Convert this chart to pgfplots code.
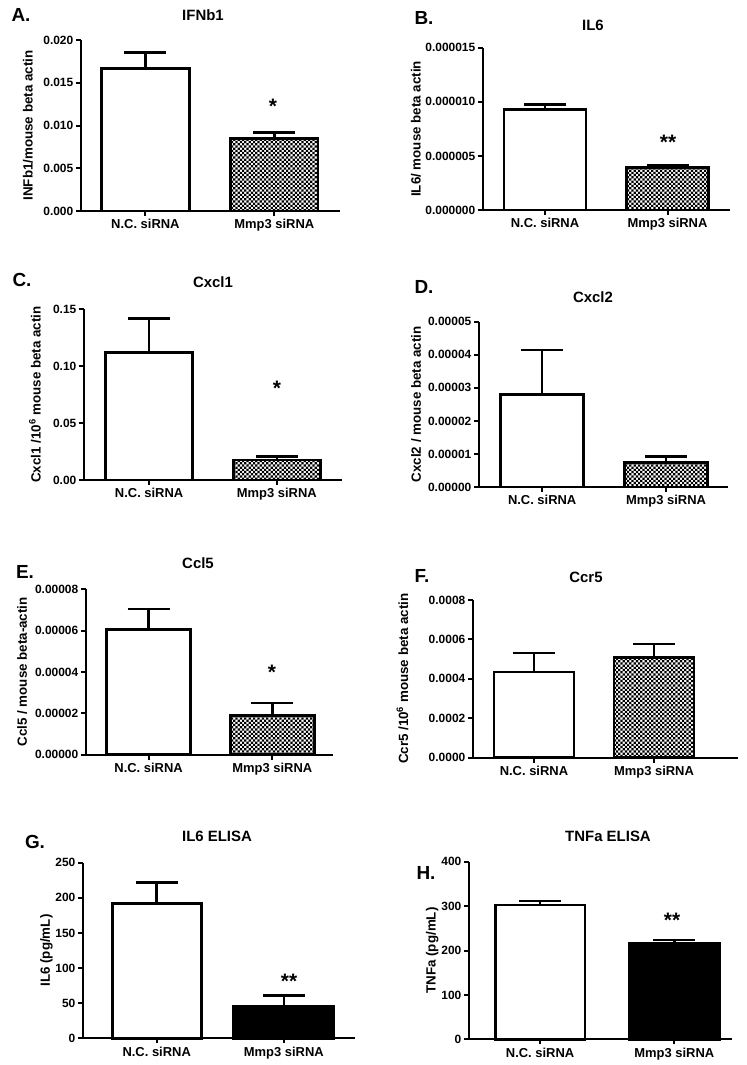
\documentclass[border=0pt]{standalone}
\usepackage{fontspec}
\setmainfont{Liberation Sans}
\usepackage{pgfplots}
\pgfplotsset{compat=1.18}
\usetikzlibrary{patterns}

\pgfdeclarepatternformonly{finechecker}{\pgfqpoint{-0.1bp}{-0.1bp}}{\pgfqpoint{4.5bp}{4.5bp}}{\pgfqpoint{4.4bp}{4.4bp}}{%
  \pgfpathrectangle{\pgfpointorigin}{\pgfqpoint{2.2bp}{2.2bp}}%
  \pgfpathrectangle{\pgfqpoint{2.2bp}{2.2bp}}{\pgfqpoint{2.2bp}{2.2bp}}%
  \pgfusepath{fill}}

\pgfplotsset{
  gp/.style={
    scale only axis,
    anchor=south west,
    axis x line*=bottom,
    axis y line*=left,
    axis line style={line width=2bp, black},
    every tick/.style={line width=2bp, black},
    tick align=outside,
    major tick length=5bp,
    xtick={0,1},
    xticklabels={N.C. siRNA, Mmp3 siRNA},
    scaled y ticks=false,
    x tick label style={font=\fontsize{13}{15}\selectfont\bfseries},
    y tick label style={font=\fontsize{12}{14}\selectfont\bfseries, inner xsep=2.5bp},
    ylabel style={font=\fontsize{13.4}{15}\selectfont\bfseries, anchor=center},
    ymin=0,
    clip=false,
    /pgf/number format/assume math mode=true,
  },
  gbar/.style={ybar, bar shift=0pt, draw=black, line width=2.8bp,
    error bars/y dir=plus, error bars/y explicit,
    error bars/error bar style={line width=2.6bp, black, solid},
    error bars/error mark options={rotate=90, line width=2.6bp, black, mark size=21bp, solid}},
  wbar/.style={gbar, fill=white},
  cbar/.style={gbar, pattern=finechecker, pattern color=black},
  kbar/.style={gbar, fill=black},
}

\begin{document}
\begin{tikzpicture}
\useasboundingbox (0bp,0bp) rectangle (747bp,-1065bp);

% ---------- A ----------
\begin{axis}[gp, at={(81bp,-211bp)}, width=259bp, height=171bp,
  xmin=-0.50, xmax=1.51, ymax=0.020,
  ytick={0,0.005,0.01,0.015,0.02},
  yticklabels={0.000,0.005,0.010,0.015,0.020},
  ylabel={INFb1/mouse beta actin},
  ylabel style={at={(axis description cs:-0.2046,0.5)}}]
\addplot[wbar, bar width=0.68] coordinates {(0,0.01668) +- (0,0.00183)};
\addplot[cbar, bar width=0.68] coordinates {(1,0.00848) +- (0,0.00071)};
\end{axis}

% ---------- B ----------
\begin{axis}[gp, at={(483bp,-210bp)}, width=247bp, height=162.3bp,
  xmin=-0.506, xmax=1.51, ymax=0.000015,
  ytick={0,0.000005,0.00001,0.000015},
  yticklabels={0.000000,0.000005,0.000010,0.000015},
  ylabel={IL6/ mouse beta actin},
  ylabel style={at={(axis description cs:-0.272,0.5)}}]
\addplot[wbar, bar width=0.67] coordinates {(0,0.0000093) +- (0,0.00000047)};
\addplot[cbar, bar width=0.67] coordinates {(1,0.0000039) +- (0,0.0000002)};
\end{axis}

% ---------- C ----------
\begin{axis}[gp, at={(84bp,-480bp)}, width=258bp, height=171bp,
  xmin=-0.51, xmax=1.51, ymax=0.15,
  ytick={0,0.05,0.1,0.15},
  yticklabels={0.00,0.05,0.10,0.15},
  ylabel={Cxcl1 /10\textsuperscript{6} mouse beta actin},
  ylabel style={at={(axis description cs:-0.190,0.5)}}]
\addplot[wbar, bar width=0.68] coordinates {(0,0.1117) +- (0,0.0301)};
\addplot[cbar, bar width=0.68] coordinates {(1,0.0175) +- (0,0.0029)};
\end{axis}

% ---------- D ----------
\begin{axis}[gp, at={(479bp,-487bp)}, width=249bp, height=165.3bp,
  xmin=-0.51, xmax=1.50, ymax=0.00005,
  ytick={0,0.00001,0.00002,0.00003,0.00004,0.00005},
  yticklabels={0.00000,0.00001,0.00002,0.00003,0.00004,0.00005},
  ylabel={Cxcl2 / mouse beta actin},
  ylabel style={at={(axis description cs:-0.252,0.5)}}]
\addplot[wbar, bar width=0.67] coordinates {(0,0.0000280) +- (0,0.0000134)};
\addplot[cbar, bar width=0.67] coordinates {(1,0.0000075) +- (0,0.0000017)};
\end{axis}

% ---------- E ----------
\begin{axis}[gp, at={(86bp,-754.5bp)}, width=247bp, height=165.2bp,
  xmin=-0.506, xmax=1.49, ymax=0.00008,
  ytick={0,0.00002,0.00004,0.00006,0.00008},
  yticklabels={0.00000,0.00002,0.00004,0.00006,0.00008},
  ylabel={Ccl5 / mouse beta-actin},
  ylabel style={at={(axis description cs:-0.258,0.5)}}]
\addplot[wbar, bar width=0.675] coordinates {(0,0.0000605) +- (0,0.0000100)};
\addplot[cbar, bar width=0.675] coordinates {(1,0.0000187) +- (0,0.0000062)};
\end{axis}

% ---------- F ----------
\begin{axis}[gp, at={(473bp,-757.5bp)}, width=265bp, height=157.5bp,
  xmin=-0.508, xmax=1.70, ymax=0.0008,
  ytick={0,0.0002,0.0004,0.0006,0.0008},
  yticklabels={0.0000,0.0002,0.0004,0.0006,0.0008},
  ylabel={Ccr5 /10\textsuperscript{6} mouse beta actin},
  ylabel style={at={(axis description cs:-0.266,0.5)}}]
\addplot[wbar, bar width=0.667] coordinates {(0,0.000434) +- (0,0.000096)};
\addplot[cbar, bar width=0.667] coordinates {(1,0.000508) +- (0,0.000069)};
\end{axis}

% ---------- G ----------
\begin{axis}[gp, at={(83bp,-1038.3bp)}, width=272bp, height=175.6bp,
  xmin=-0.58, xmax=1.56, ymax=250,
  ytick={0,50,100,150,200,250},
  yticklabels={0,50,100,150,200,250},
  ylabel={IL6 (pg/mL)},
  ylabel style={at={(axis description cs:-0.134,0.5)}}]
\addplot[wbar, bar width=0.70] coordinates {(0,192.2) +- (0,29.3)};
\addplot[kbar, bar width=0.79] coordinates {(1,46.0) +- (0,14.7)};
\end{axis}

% ---------- H ----------
\begin{axis}[gp, at={(469bp,-1039.3bp)}, width=263bp, height=177.6bp,
  xmin=-0.53, xmax=1.43, ymax=400,
  ytick={0,100,200,300,400},
  yticklabels={0,100,200,300,400},
  ylabel={TNFa (pg/mL)},
  ylabel style={at={(axis description cs:-0.140,0.5)}}]
\addplot[wbar, bar width=0.67] coordinates {(0,302.5) +- (0,9.0)};
\addplot[kbar, bar width=0.67] coordinates {(1,216.0) +- (0,7.6)};
\end{axis}

% ---------- panel letters ----------
\begin{scope}[every node/.style={font=\fontsize{19}{21}\selectfont\bfseries, inner sep=0pt, anchor=center}]
\node at (21bp,-15bp) {A.};
\node at (424bp,-18bp) {B.};
\node at (22bp,-280bp) {C.};
\node at (424bp,-287bp) {D.};
\node at (25bp,-572bp) {E.};
\node at (422bp,-576bp) {F.};
\node at (35bp,-842bp) {G.};
\node at (426bp,-873bp) {H.};
\end{scope}

% ---------- titles ----------
\begin{scope}[every node/.style={font=\fontsize{15}{17}\selectfont\bfseries, inner sep=0pt, anchor=center}]
\node at (203bp,-15bp) {IFNb1};
\node at (593bp,-25bp) {IL6};
\node at (213bp,-282bp) {Cxcl1};
\node at (593bp,-297bp) {Cxcl2};
\node at (198bp,-563bp) {Ccl5};
\node at (586bp,-577bp) {Ccr5};
\node at (217bp,-836bp) {IL6 ELISA};
\node at (608bp,-836bp) {TNFa ELISA};
\end{scope}

% ---------- significance stars ----------
\begin{scope}[every node/.style={font=\fontsize{21}{23}\selectfont\bfseries, inner sep=0pt, anchor=north}]
\node at (273bp,-99bp) {*};
\node at (668bp,-135bp) {**};
\node at (277bp,-381bp) {*};
\node at (272bp,-665bp) {*};
\node at (289bp,-974bp) {**};
\node at (672bp,-913bp) {**};
\end{scope}
\end{tikzpicture}
\end{document}
